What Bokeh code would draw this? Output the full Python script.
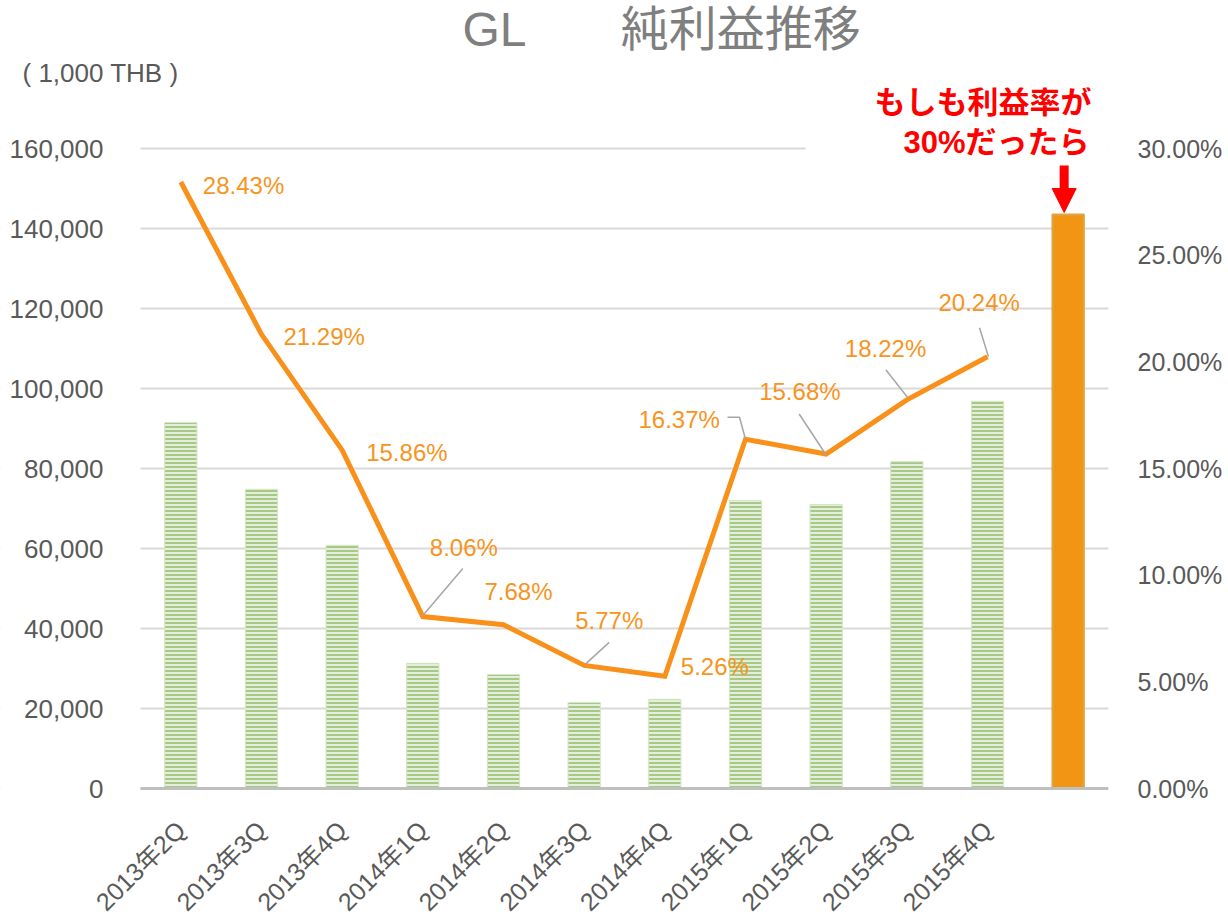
from bokeh.plotting import figure
from bokeh.models import (Range1d, LinearAxis, FixedTicker, NumeralTickFormatter, Label, Title,
                          Arrow, NormalHead, ColumnDataSource, BoxAnnotation)
from bokeh.core.properties import value
from bokeh.embed import file_html
from bokeh.resources import INLINE
import math

# ---------------- data ----------------
quarters = ["2013年2Q", "2013年3Q", "2013年4Q", "2014年1Q", "2014年2Q", "2014年3Q",
            "2014年4Q", "2015年1Q", "2015年2Q", "2015年3Q", "2015年4Q"]
net_profit = [91500, 74800, 60800, 31300, 28500, 21500, 22300, 72000, 71000, 81700, 96800]
margin = [0.2843, 0.2129, 0.1586, 0.0806, 0.0768, 0.0577, 0.0526, 0.1637, 0.1568, 0.1822, 0.2024]
whatif_profit = [143500]
left_ticks = [0, 20000, 40000, 60000, 80000, 100000, 120000, 140000, 160000]
right_ticks = [0.0, 0.05, 0.10, 0.15, 0.20, 0.25, 0.30]

# label offsets in screen pixels (x right, y down) relative to each line point
lab_dx = [22, 22, 24, 7, -19, -9, 16, -107, -67, -62, -49]
lab_dy = [4, 2, 2, -69, -33, -45, -10, -20, -62, -51, -54]
# leader lines (pixel offsets relative to point)
leaders = {
    3: [(0, -1), (40, -48)],
    5: [(1, -1), (25, -23)],
    7: [(-18, -22), (-6, -22), (0, 0)],
    8: [(-27, -40), (0, 1)],
    9: [(-21, -30), (1, -2)],
    10: [(-8, -29), (1, 0)],
}

FONT = "Liberation Sans, Arial, Noto Sans CJK JP"
GRAY = "#595959"
ORANGE_LINE = "#f8901a"
ORANGE_TXT = "#f7941d"

W, H = 1228, 916
PL, MR, MT = 140, 120, 87   # PL: pixel column of the plot's left edge
BASE = 788      # pixel row of the value 0 (x axis)
AXIS_PX = 640   # pixel height of 0..160,000
y_max_tick = 160000
p_max_tick = 0.30
x0, x1 = -0.5, 11.5
ppx = (W - PL - MR) / (x1 - x0)
ppy = AXIS_PX / y_max_tick
ppy_pct = AXIS_PX / p_max_tick
x_lo = x0 - PL / ppx
y_lo, y_hi = -(H - BASE) / ppy, (BASE - MT) / ppy
p_lo, p_hi = -(H - BASE) / ppy_pct, (BASE - MT) / ppy_pct


def ydata(py):
    return (BASE - py) / ppy


def xdata(px):
    return x_lo + px / ppx


p = figure(width=W, height=H, output_backend="svg", toolbar_location=None,
           x_range=Range1d(x_lo, x1), y_range=Range1d(y_lo, y_hi),
           min_border_left=0, min_border_right=MR, min_border_top=MT, min_border_bottom=0)
p.outline_line_color = None
p.extra_y_ranges = {"pct": Range1d(p_lo, p_hi)}

# grid
p.xgrid.visible = False
p.ygrid.grid_line_color = "#d9d9d9"
p.ygrid.grid_line_width = 2

# left axis, pinned at the plot's left edge
la = p.yaxis[0]
la.fixed_location = x0
la.ticker = FixedTicker(ticks=left_ticks)
la.formatter = NumeralTickFormatter(format="0,0")
la.axis_line_color = None
la.major_tick_line_color = None
la.minor_tick_line_color = None
la.major_tick_out = 0
la.major_label_text_font = FONT
la.major_label_text_font_size = "26px"
la.major_label_text_color = GRAY
la.major_label_standoff = 37

# right axis
ra = LinearAxis(y_range_name="pct", ticker=FixedTicker(ticks=right_ticks),
                formatter=NumeralTickFormatter(format="0.00%"))
ra.axis_line_color = None
ra.major_tick_line_color = None
ra.minor_tick_line_color = None
ra.major_tick_out = 0
ra.major_label_text_font = FONT
ra.major_label_text_font_size = "25px"
ra.major_label_text_color = GRAY
ra.major_label_standoff = 29
p.add_layout(ra, "right")

# bottom axis, pinned at y = 0 so its rotated labels hang into the lower part of the frame
xa = p.xaxis[0]
xa.fixed_location = 0
xa.bounds = (x0, x1)
xa.ticker = FixedTicker(ticks=list(range(len(quarters))))
xa.major_label_overrides = {i: q for i, q in enumerate(quarters)}
xa.axis_line_color = "#bfbfbf"
xa.axis_line_width = 3
xa.major_tick_line_color = None
xa.minor_tick_line_color = None
xa.major_tick_out = 0
xa.major_label_orientation = math.pi / 4
xa.major_label_text_font = FONT
xa.major_label_text_font_size = "25px"
xa.major_label_text_color = GRAY
xa.major_label_standoff = 37

# titles (above panel): first added sits closest to the plot
p.add_layout(Title(text="( 1,000 THB )", align="left", offset=22, standoff=0,
                   text_font=FONT, text_font_size="26px", text_color=GRAY,
                   text_font_style="normal"), "above")
p.add_layout(Title(text="GL　　純利益推移", align="left", offset=462, standoff=0,
                   text_font=FONT, text_font_size="48px", text_color="#7f7f7f",
                   text_font_style="normal"), "above")

# white masks: left margin (grid lines start at the plot edge) and behind the annotation
p.add_layout(BoxAnnotation(right=x0, fill_color="white", fill_alpha=1.0, line_color=None,
                           level="underlay"))
p.add_layout(BoxAnnotation(left=xdata(805), right=x1,
                           bottom=y_max_tick - 4 / ppy, top=y_max_tick + 4 / ppy,
                           fill_color="white", fill_alpha=1.0, line_color=None, level="underlay"))

# bars
xs = list(range(len(quarters)))
bsrc = ColumnDataSource(dict(x=xs, top=net_profit))
p.vbar(x="x", top="top", bottom=0, width=0.4, source=bsrc, fill_color="#e4efda",
       line_color="#d5e6c4", line_width=1,
       hatch_pattern="horizontal_line", hatch_color="#a7c889", hatch_scale=4, hatch_weight=2)

p.vbar(x=[len(quarters)], top=whatif_profit, bottom=0, width=0.39, fill_color="#f39514",
       line_color="#dba745", line_width=2)

# line
lsrc = ColumnDataSource(dict(x=xs, y=margin, t=[f"{m*100:.2f}%" for m in margin],
                             dx=lab_dx, dy=lab_dy))
p.line(x="x", y="y", source=lsrc, y_range_name="pct", line_color=ORANGE_LINE,
       line_width=5, line_join="miter")

# leader lines
lx, ly = [], []
for i, pts in leaders.items():
    lx.append([xs[i] + dx / ppx for dx, dy in pts])
    ly.append([margin[i] - dy / ppy_pct for dx, dy in pts])
p.multi_line(xs=lx, ys=ly, y_range_name="pct", line_color="#a6a6a6", line_width=1.5)

p.text(x="x", y="y", text="t", source=lsrc, y_range_name="pct", x_offset="dx", y_offset="dy",
       text_font=value(FONT), text_font_size="24px", text_color=ORANGE_TXT,
       text_align="left", text_baseline="middle")

# what-if annotation
p.add_layout(Label(x=xdata(1091), y=ydata(102), text="もしも利益率が",
                   text_font=FONT, text_font_size="31px", text_font_style="bold",
                   text_color="#ff0000", text_align="right", text_baseline="middle"))
p.add_layout(Label(x=xdata(1089), y=ydata(142), text="30%だったら",
                   text_font=FONT, text_font_size="31px", text_font_style="bold",
                   text_color="#ff0000", text_align="right", text_baseline="middle"))
ax_x = len(quarters) - 4 / ppx
p.add_layout(Arrow(x_start=ax_x, y_start=ydata(165), x_end=ax_x, y_end=ydata(212),
                   line_color="#ff0000", line_width=9,
                   end=NormalHead(size=24, fill_color="#ff0000", line_color="#ff0000", line_width=1)))

open("out.html", "w").write(file_html(p, INLINE))
